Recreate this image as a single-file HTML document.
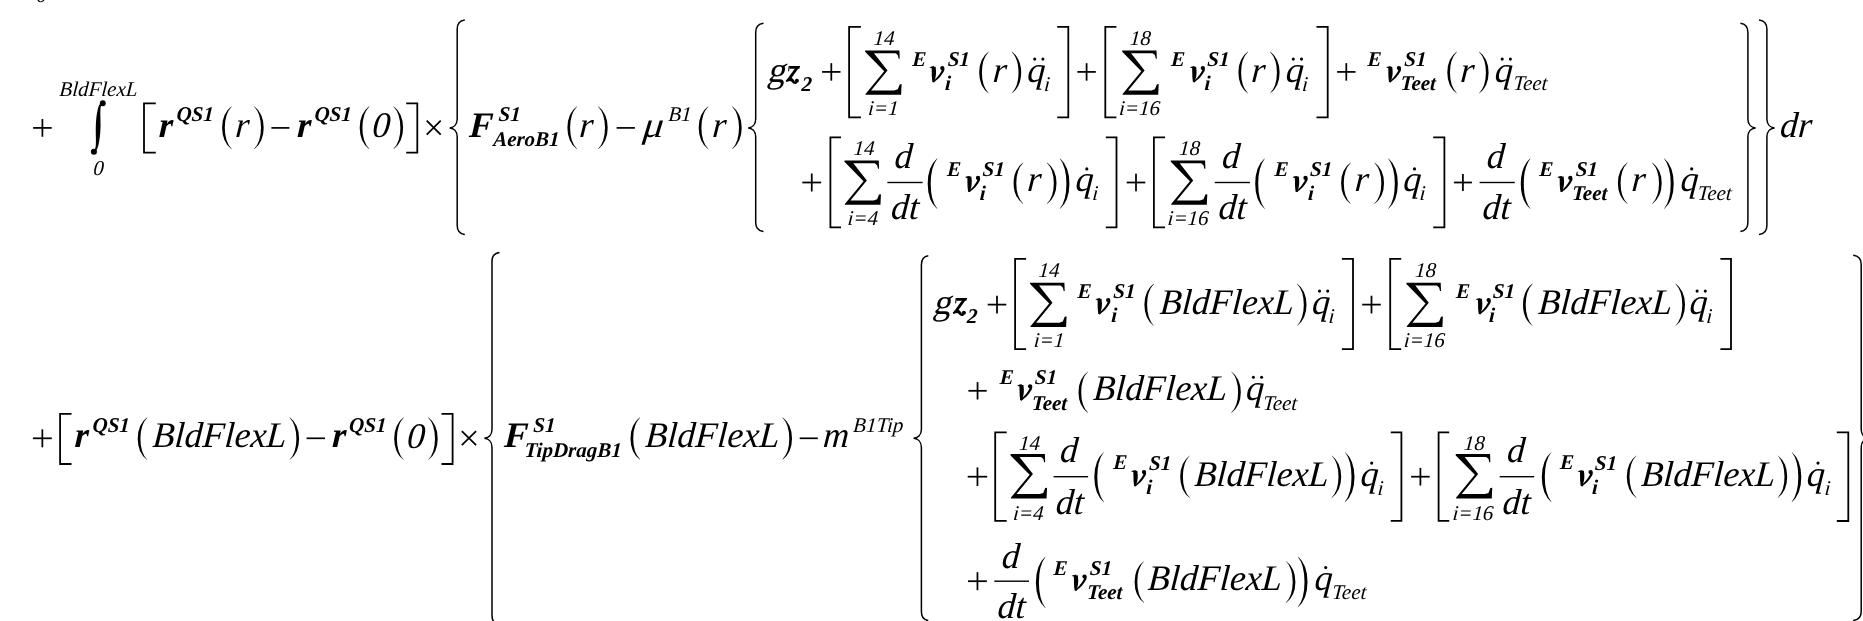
<!DOCTYPE html>
<html><head><meta charset="utf-8"><style>
html,body{margin:0;padding:0;background:#fff;overflow:hidden}
svg{display:block;will-change:transform}
text{font-family:'Liberation Serif',serif;fill:#000}
</style></head><body>
<svg width="1863" height="621" viewBox="0 0 1863 621">
<text transform="translate(36.29 2.3) skewX(-4.0)" font-size="21" font-style="italic">0</text>
<rect x="33.1" y="127.03" width="18.6" height="1.75"/>
<rect x="41.53" y="119.05" width="1.75" height="17.7"/>
<path d="M100.59 103.11L100.38 103.42L100.08 103.86L99.71 104.41L99.30 105.08L98.90 105.84L98.55 106.68L98.25 107.59L97.98 108.56L97.72 109.59L97.48 110.66L97.26 111.75L97.06 112.84L96.87 113.97L96.69 115.14L96.53 116.34L96.39 117.54L96.26 118.74L96.15 119.92L96.06 121.10L95.98 122.29L95.92 123.46L95.87 124.63L95.83 125.79L95.80 126.95L95.78 128.11L95.77 129.28L95.77 130.44L95.78 131.60L95.79 132.75L95.80 133.91L95.82 135.09L95.84 136.28L95.87 137.46L95.90 138.63L95.91 139.76L95.91 140.85L95.90 141.93L95.89 142.99L95.86 144.02L95.82 145.00L95.75 145.91L95.64 146.71L95.46 147.45L95.21 148.16L94.91 148.83L94.61 149.44L94.34 149.97L94.15 150.37L95.85 151.23L96.05 150.86L96.33 150.35L96.68 149.72L97.06 148.98L97.43 148.16L97.76 147.29L98.04 146.37L98.30 145.40L98.55 144.38L98.78 143.32L98.99 142.24L99.19 141.15L99.38 140.02L99.55 138.86L99.71 137.66L99.85 136.46L99.98 135.27L100.10 134.09L100.20 132.91L100.29 131.73L100.36 130.56L100.42 129.39L100.46 128.22L100.50 127.05L100.52 125.88L100.52 124.70L100.51 123.54L100.49 122.38L100.47 121.23L100.45 120.08L100.43 118.91L100.40 117.72L100.37 116.54L100.35 115.38L100.34 114.25L100.34 113.16L100.36 112.08L100.38 111.00L100.40 109.96L100.45 108.98L100.53 108.09L100.65 107.32L100.84 106.64L101.10 106.02L101.40 105.44L101.72 104.91L102.00 104.46L102.21 104.09Z"/>
<circle cx="102.8" cy="103.3" r="2.95"/>
<circle cx="93.9" cy="151.7" r="3.05"/>
<text transform="translate(59.06 95.8) skewX(-4.0)" font-size="21" font-style="italic">BldFlexL</text>
<text transform="translate(92.89 174.9) skewX(-4.0)" font-size="21" font-style="italic">0</text>
<path d="M155.8 103.3H144V152.7H155.8" stroke="#000" stroke-width="1.8" fill="none"/>
<text transform="translate(158.46 136.7) skewX(-3.0)" font-size="36" font-style="italic" font-weight="bold">r</text>
<text transform="translate(176.14 120.7) skewX(-3.0)" font-size="21" font-style="italic" font-weight="bold">QS1</text>
<path d="M231.6 106.3A18.77 24.73 0 0 0 231.6 149.3L231.6 148.85A13.43 24.21 0 0 1 231.6 106.75Z"/>
<text transform="translate(234.74 136.7) skewX(-4.0)" font-size="36" font-style="italic">r</text>
<path d="M254.2 106.3A18.77 24.73 0 0 1 254.2 149.3L254.2 148.85A13.43 24.21 0 0 0 254.2 106.75Z"/>
<rect x="271.4" y="127.05" width="18" height="1.7"/>
<text transform="translate(296.76 136.7) skewX(-3.0)" font-size="36" font-style="italic" font-weight="bold">r</text>
<text transform="translate(314.14 120.7) skewX(-3.0)" font-size="21" font-style="italic" font-weight="bold">QS1</text>
<path d="M369.2 106.3A18.77 24.73 0 0 0 369.2 149.3L369.2 148.85A13.43 24.21 0 0 1 369.2 106.75Z"/>
<text transform="translate(371.81 136.9) skewX(-4.0)" font-size="36" font-style="italic">0</text>
<path d="M393.6 106.3A18.77 24.73 0 0 1 393.6 149.3L393.6 148.85A13.43 24.21 0 0 0 393.6 106.75Z"/>
<path d="M406.2 103.3H417.3V152.7H406.2" stroke="#000" stroke-width="1.8" fill="none"/>
<path d="M426.7 120.7L440.7 134.7M440.7 120.7L426.7 134.7" stroke="#000" stroke-width="1.75" fill="none"/>
<path d="M464.8 20C459.86 20.6 457.2 23.5 457.2 29L457.2 118.9C457.2 124.9 453.45 127.6 449.7 127.9C453.45 128.2 457.2 130.9 457.2 136.9L457.2 225.4C457.2 230.9 459.86 233.8 464.8 234.4" stroke="#000" stroke-width="1.5" fill="none" stroke-linejoin="miter"/>
<text transform="translate(468.64 136.7) skewX(-3.0)" font-size="36" font-style="italic" font-weight="bold">F</text>
<text transform="translate(498.22 120.7) skewX(-3.0)" font-size="21" font-style="italic" font-weight="bold">S1</text>
<text transform="translate(492.89 145.7) skewX(-3.0)" font-size="21" font-style="italic" font-weight="bold">AeroB1</text>
<path d="M576.9 106.3A18.77 24.73 0 0 0 576.9 149.3L576.9 148.85A13.43 24.21 0 0 1 576.9 106.75Z"/>
<text transform="translate(578.74 136.7) skewX(-4.0)" font-size="36" font-style="italic">r</text>
<path d="M598.2 106.3A18.77 24.73 0 0 1 598.2 149.3L598.2 148.85A13.43 24.21 0 0 0 598.2 106.75Z"/>
<rect x="616.6" y="127.05" width="18.3" height="1.7"/>
<text transform="translate(642.2 136.7) skewX(-6) scale(1.13 1) translate(0.04 0)" font-size="36" font-style="italic">μ</text>
<text transform="translate(668.01 120.7) skewX(-4.0)" font-size="21" font-style="italic">B1</text>
<path d="M708.2 106.3A18.77 24.73 0 0 0 708.2 149.3L708.2 148.85A13.43 24.21 0 0 1 708.2 106.75Z"/>
<text transform="translate(711.84 136.7) skewX(-4.0)" font-size="36" font-style="italic">r</text>
<path d="M732.2 106.3A18.77 24.73 0 0 1 732.2 149.3L732.2 148.85A13.43 24.21 0 0 0 732.2 106.75Z"/>
<path d="M763.5 23.3C758.43 23.9 755.7 26.8 755.7 32.3L755.7 118.9C755.7 124.9 751.95 127.6 748.2 127.9C751.95 128.2 755.7 130.9 755.7 136.9L755.7 222.5C755.7 228 758.43 230.9 763.5 231.5" stroke="#000" stroke-width="1.5" fill="none" stroke-linejoin="miter"/>
<text transform="translate(766.85 81.5) skewX(-14)" font-size="36">g</text>
<polygon points="789.00,65.90 800.10,65.90 799.30,68.70 789.50,68.70"/>
<polygon points="788.60,66.20 789.70,66.20 789.05,71.40 788.10,71.30"/>
<polygon points="800.10,66.00 796.50,66.30 785.90,81.00 786.40,81.70 790.30,79.70"/>
<path d="M786.42 81.81L786.71 81.74L787.12 81.63L787.59 81.52L788.07 81.41L788.52 81.33L788.90 81.27L789.25 81.20L789.59 81.13L789.88 81.08L790.08 81.07L790.20 81.08L790.23 81.09L790.27 81.10L790.39 81.13L790.57 81.19L790.80 81.30L791.05 81.43L791.27 81.56L791.45 81.68L791.66 81.88L791.91 82.15L792.20 82.48L792.54 82.84L792.93 83.17L793.30 83.41L793.66 83.62L794.05 83.80L794.47 83.95L794.93 84.04L795.48 84.05L796.03 83.88L796.45 83.62L796.77 83.34L797.03 83.08L797.21 82.89L797.32 82.77L796.28 81.43L796.09 81.55L795.86 81.71L795.63 81.86L795.42 81.97L795.29 82.00L795.32 81.95L795.36 81.91L795.29 81.84L795.16 81.74L795.00 81.59L794.82 81.41L794.67 81.23L794.55 81.06L794.41 80.81L794.23 80.47L794.00 80.08L793.69 79.65L793.33 79.24L792.97 78.90L792.61 78.60L792.21 78.31L791.74 78.04L791.19 77.83L790.57 77.71L789.93 77.72L789.35 77.84L788.86 78.03L788.44 78.25L788.07 78.48L787.70 78.73L787.31 79.06L786.91 79.45L786.55 79.85L786.23 80.24L785.97 80.56L785.78 80.79Z"/>
<circle cx="796.9" cy="80.7" r="2"/>
<text transform="translate(801.16 90.6) skewX(-3.0)" font-size="21" font-style="italic" font-weight="bold">2</text>
<rect x="822.1" y="71.03" width="18.4" height="1.75"/>
<rect x="830.42" y="63.15" width="1.75" height="17.5"/>
<path d="M860.9 26.9H849.1V117.3H860.9" stroke="#000" stroke-width="1.8" fill="none"/>
<polygon points="865.10,50.40 899.40,50.40 899.70,58.70 898.70,58.70 897.80,55.10 895.50,53.30 874.00,53.30 887.50,70.50 871.10,90.50 894.20,90.50 897.80,89.30 899.70,84.50 901.60,84.10 901.10,94.80 865.50,94.80 865.50,93.90 884.20,71.20 865.10,51.80"/>
<text transform="translate(873.25 44.9) skewX(-4.0)" font-size="21" font-style="italic">14</text>
<text transform="translate(867.63 114.6) skewX(-4.0)" font-size="21" font-style="italic">i=1</text>
<text transform="translate(911.95 65.5) skewX(-3.0)" font-size="21" font-style="italic" font-weight="bold">E</text>
<polygon points="929.40,67.30 931.70,66.40 934.20,66.10 933.60,68.30 930.90,68.10"/>
<path d="M931.60 67.04L931.62 67.60L931.65 68.38L931.67 69.28L931.70 70.24L931.73 71.18L931.75 72.03L931.76 72.81L931.77 73.61L931.78 74.41L931.79 75.22L931.81 76.04L931.85 76.86L931.93 77.76L932.03 78.73L932.14 79.73L932.25 80.66L932.34 81.45L932.40 82.02L934.00 82.18L934.18 81.64L934.43 80.89L934.74 80.00L935.05 79.03L935.33 78.05L935.55 77.14L935.70 76.29L935.83 75.44L935.92 74.59L935.99 73.73L936.03 72.86L936.05 71.97L936.02 71.01L935.95 70.00L935.85 68.99L935.75 68.07L935.65 67.31L935.60 66.76Z"/>
<path d="M933.74 82.48L934.04 82.23L934.46 81.89L934.96 81.48L935.51 81.03L936.06 80.57L936.59 80.12L937.09 79.67L937.62 79.21L938.16 78.73L938.71 78.23L939.24 77.70L939.76 77.15L940.26 76.57L940.74 75.96L941.20 75.34L941.64 74.73L942.05 74.14L942.43 73.59L942.79 73.08L943.13 72.57L943.47 72.07L943.77 71.57L944.04 71.06L944.26 70.51L944.39 69.88L944.38 69.27L944.30 68.77L944.20 68.39L944.14 68.17L944.13 68.06L941.27 68.94L941.36 69.17L941.49 69.41L941.59 69.58L941.67 69.71L941.72 69.79L941.74 69.89L941.69 70.13L941.57 70.48L941.38 70.91L941.15 71.38L940.87 71.88L940.57 72.41L940.24 72.96L939.88 73.54L939.49 74.14L939.08 74.73L938.66 75.31L938.24 75.85L937.81 76.37L937.35 76.88L936.86 77.39L936.37 77.90L935.88 78.40L935.41 78.88L934.94 79.38L934.45 79.89L933.96 80.39L933.51 80.85L933.14 81.24L932.86 81.52Z"/>
<circle cx="942.3" cy="68.1" r="2.15"/>
<text transform="translate(947.42 65.8) skewX(-3.0)" font-size="21" font-style="italic" font-weight="bold">S1</text>
<text transform="translate(944.77 90.4) skewX(-3.0)" font-size="21" font-style="italic" font-weight="bold">i</text>
<path d="M988.7 51.6A18.77 24.15 0 0 0 988.7 93.6L988.7 93.15A13.43 23.63 0 0 1 988.7 52.05Z"/>
<text transform="translate(992.24 81.5) skewX(-4.0)" font-size="36" font-style="italic">r</text>
<path d="M1011.7 51.6A18.77 24.15 0 0 1 1011.7 93.6L1011.7 93.15A13.43 23.63 0 0 0 1011.7 52.05Z"/>
<text transform="translate(1026.7 81.5) skewX(-4.0)" font-size="36" font-style="italic">q</text>
<circle cx="1034.7" cy="59.1" r="1.55"/>
<circle cx="1042.9" cy="59.1" r="1.55"/>
<text transform="translate(1043.63 90.6) skewX(-4.0)" font-size="21" font-style="italic">i</text>
<path d="M1057.2 26.9H1068.3V117.3H1057.2" stroke="#000" stroke-width="1.8" fill="none"/>
<rect x="1077.4" y="71.03" width="18.4" height="1.75"/>
<rect x="1085.72" y="63.15" width="1.75" height="17.5"/>
<path d="M1116.4 26.9H1105.3V117.3H1116.4" stroke="#000" stroke-width="1.8" fill="none"/>
<polygon points="1122.20,50.40 1156.50,50.40 1156.80,58.70 1155.80,58.70 1154.90,55.10 1152.60,53.30 1131.10,53.30 1144.60,70.50 1128.20,90.50 1151.30,90.50 1154.90,89.30 1156.80,84.50 1158.70,84.10 1158.20,94.80 1122.60,94.80 1122.60,93.90 1141.30,71.20 1122.20,51.80"/>
<text transform="translate(1129.45 44.9) skewX(-4.0)" font-size="21" font-style="italic">18</text>
<text transform="translate(1118.73 114.6) skewX(-4.0)" font-size="21" font-style="italic">i=16</text>
<text transform="translate(1170.65 65.5) skewX(-3.0)" font-size="21" font-style="italic" font-weight="bold">E</text>
<polygon points="1189.90,67.30 1192.20,66.40 1194.70,66.10 1194.10,68.30 1191.40,68.10"/>
<path d="M1192.10 67.04L1192.12 67.60L1192.15 68.38L1192.17 69.28L1192.20 70.24L1192.23 71.18L1192.25 72.03L1192.26 72.81L1192.27 73.61L1192.28 74.41L1192.29 75.22L1192.31 76.04L1192.35 76.86L1192.43 77.76L1192.53 78.73L1192.64 79.73L1192.75 80.66L1192.84 81.45L1192.90 82.02L1194.50 82.18L1194.68 81.64L1194.93 80.89L1195.24 80.00L1195.55 79.03L1195.83 78.05L1196.05 77.14L1196.20 76.29L1196.33 75.44L1196.42 74.59L1196.49 73.73L1196.53 72.86L1196.55 71.97L1196.52 71.01L1196.45 70.00L1196.35 68.99L1196.25 68.07L1196.15 67.31L1196.10 66.76Z"/>
<path d="M1194.24 82.48L1194.54 82.23L1194.96 81.89L1195.46 81.48L1196.01 81.03L1196.56 80.57L1197.09 80.12L1197.59 79.67L1198.12 79.21L1198.66 78.73L1199.21 78.23L1199.74 77.70L1200.26 77.15L1200.76 76.57L1201.24 75.96L1201.70 75.34L1202.14 74.73L1202.55 74.14L1202.93 73.59L1203.29 73.08L1203.63 72.57L1203.97 72.07L1204.27 71.57L1204.54 71.06L1204.76 70.51L1204.89 69.88L1204.88 69.27L1204.80 68.77L1204.70 68.39L1204.64 68.17L1204.63 68.06L1201.77 68.94L1201.86 69.17L1201.99 69.41L1202.09 69.58L1202.17 69.71L1202.22 69.79L1202.24 69.89L1202.19 70.13L1202.07 70.48L1201.88 70.91L1201.65 71.38L1201.37 71.88L1201.07 72.41L1200.74 72.96L1200.38 73.54L1199.99 74.14L1199.58 74.73L1199.16 75.31L1198.74 75.85L1198.31 76.37L1197.85 76.88L1197.36 77.39L1196.87 77.90L1196.38 78.40L1195.91 78.88L1195.44 79.38L1194.95 79.89L1194.46 80.39L1194.01 80.85L1193.64 81.24L1193.36 81.52Z"/>
<circle cx="1202.8" cy="68.1" r="2.15"/>
<text transform="translate(1207.12 65.8) skewX(-3.0)" font-size="21" font-style="italic" font-weight="bold">S1</text>
<text transform="translate(1204.37 90.4) skewX(-3.0)" font-size="21" font-style="italic" font-weight="bold">i</text>
<path d="M1247.9 51.6A18.77 24.15 0 0 0 1247.9 93.6L1247.9 93.15A13.43 23.63 0 0 1 1247.9 52.05Z"/>
<text transform="translate(1250.64 81.5) skewX(-4.0)" font-size="36" font-style="italic">r</text>
<path d="M1270.1 51.6A18.77 24.15 0 0 1 1270.1 93.6L1270.1 93.15A13.43 23.63 0 0 0 1270.1 52.05Z"/>
<text transform="translate(1285.3 81.5) skewX(-4.0)" font-size="36" font-style="italic">q</text>
<circle cx="1293.3" cy="59.1" r="1.55"/>
<circle cx="1301.5" cy="59.1" r="1.55"/>
<text transform="translate(1301.63 90.6) skewX(-4.0)" font-size="21" font-style="italic">i</text>
<path d="M1316.5 26.9H1327.7V117.3H1316.5" stroke="#000" stroke-width="1.8" fill="none"/>
<rect x="1337.1" y="71.03" width="18.4" height="1.75"/>
<rect x="1345.42" y="63.15" width="1.75" height="17.5"/>
<text transform="translate(1367.25 65.5) skewX(-3.0)" font-size="21" font-style="italic" font-weight="bold">E</text>
<polygon points="1386.00,67.30 1388.30,66.40 1390.80,66.10 1390.20,68.30 1387.50,68.10"/>
<path d="M1388.20 67.04L1388.22 67.60L1388.25 68.38L1388.27 69.28L1388.30 70.24L1388.33 71.18L1388.35 72.03L1388.36 72.81L1388.37 73.61L1388.38 74.41L1388.39 75.22L1388.41 76.04L1388.45 76.86L1388.53 77.76L1388.63 78.73L1388.74 79.73L1388.85 80.66L1388.94 81.45L1389.00 82.02L1390.60 82.18L1390.78 81.64L1391.03 80.89L1391.34 80.00L1391.65 79.03L1391.93 78.05L1392.15 77.14L1392.30 76.29L1392.43 75.44L1392.52 74.59L1392.59 73.73L1392.63 72.86L1392.65 71.97L1392.62 71.01L1392.55 70.00L1392.45 68.99L1392.35 68.07L1392.25 67.31L1392.20 66.76Z"/>
<path d="M1390.34 82.48L1390.64 82.23L1391.06 81.89L1391.56 81.48L1392.11 81.03L1392.66 80.57L1393.19 80.12L1393.69 79.67L1394.22 79.21L1394.76 78.73L1395.31 78.23L1395.84 77.70L1396.36 77.15L1396.86 76.57L1397.34 75.96L1397.80 75.34L1398.24 74.73L1398.65 74.14L1399.03 73.59L1399.39 73.08L1399.73 72.57L1400.07 72.07L1400.37 71.57L1400.64 71.06L1400.86 70.51L1400.99 69.88L1400.98 69.27L1400.90 68.77L1400.80 68.39L1400.74 68.17L1400.73 68.06L1397.87 68.94L1397.96 69.17L1398.09 69.41L1398.19 69.58L1398.27 69.71L1398.32 69.79L1398.34 69.89L1398.29 70.13L1398.17 70.48L1397.98 70.91L1397.75 71.38L1397.47 71.88L1397.17 72.41L1396.84 72.96L1396.48 73.54L1396.09 74.14L1395.68 74.73L1395.26 75.31L1394.84 75.85L1394.41 76.37L1393.95 76.88L1393.46 77.39L1392.97 77.90L1392.48 78.40L1392.01 78.88L1391.54 79.38L1391.05 79.89L1390.56 80.39L1390.11 80.85L1389.74 81.24L1389.46 81.52Z"/>
<circle cx="1398.9" cy="68.1" r="2.15"/>
<text transform="translate(1404.02 65.8) skewX(-3.0)" font-size="21" font-style="italic" font-weight="bold">S1</text>
<text transform="translate(1400.27 90.4) skewX(-3.0)" font-size="21" font-style="italic" font-weight="bold">Teet</text>
<path d="M1456.8 51.6A18.77 24.15 0 0 0 1456.8 93.6L1456.8 93.15A13.43 23.63 0 0 1 1456.8 52.05Z"/>
<text transform="translate(1459.64 81.5) skewX(-4.0)" font-size="36" font-style="italic">r</text>
<path d="M1479.1 51.6A18.77 24.15 0 0 1 1479.1 93.6L1479.1 93.15A13.43 23.63 0 0 0 1479.1 52.05Z"/>
<text transform="translate(1494.2 81.5) skewX(-4.0)" font-size="36" font-style="italic">q</text>
<circle cx="1502.2" cy="59.1" r="1.55"/>
<circle cx="1510.4" cy="59.1" r="1.55"/>
<text transform="translate(1512.93 90.4) skewX(-4.0)" font-size="21" font-style="italic">Teet</text>
<rect x="802.3" y="181.62" width="18.9" height="1.75"/>
<rect x="810.88" y="173.5" width="1.75" height="18"/>
<path d="M841 137.4H830.4V227.3H841" stroke="#000" stroke-width="1.8" fill="none"/>
<polygon points="844.45,160.45 878.75,160.45 879.05,168.75 878.05,168.75 877.15,165.15 874.85,163.35 853.35,163.35 866.85,180.55 850.45,200.55 873.55,200.55 877.15,199.35 879.05,194.55 880.95,194.15 880.45,204.85 844.85,204.85 844.85,203.95 863.55,181.25 844.45,161.85"/>
<text transform="translate(853.15 154.9) skewX(-4.0)" font-size="21" font-style="italic">14</text>
<text transform="translate(847.23 224.5) skewX(-4.0)" font-size="21" font-style="italic">i=4</text>
<rect x="887.4" y="181.8" width="35.2" height="1.4"/>
<text transform="translate(894.01 168.3) skewX(-4.0)" font-size="36" font-style="italic">d</text>
<text transform="translate(890.51 219) skewX(-4.0)" font-size="36" font-style="italic">dt</text>
<path d="M937.2 158.3A18.77 29.15 0 0 0 937.2 209L937.2 208.55A12.84 28.63 0 0 1 937.2 158.75Z"/>
<text transform="translate(946.75 175.5) skewX(-3.0)" font-size="21" font-style="italic" font-weight="bold">E</text>
<polygon points="965.10,177.10 967.40,176.20 969.90,175.90 969.30,178.10 966.60,177.90"/>
<path d="M967.30 176.84L967.32 177.40L967.35 178.18L967.37 179.08L967.40 180.04L967.43 180.98L967.45 181.83L967.46 182.61L967.47 183.41L967.48 184.21L967.49 185.02L967.51 185.84L967.55 186.66L967.63 187.56L967.73 188.53L967.84 189.53L967.95 190.46L968.04 191.25L968.10 191.82L969.70 191.98L969.88 191.44L970.13 190.69L970.44 189.80L970.75 188.83L971.03 187.85L971.25 186.94L971.40 186.09L971.53 185.24L971.62 184.39L971.69 183.53L971.73 182.66L971.75 181.77L971.72 180.81L971.65 179.80L971.55 178.79L971.45 177.87L971.35 177.11L971.30 176.56Z"/>
<path d="M969.44 192.28L969.74 192.03L970.16 191.69L970.66 191.28L971.21 190.83L971.76 190.37L972.29 189.92L972.79 189.47L973.32 189.01L973.86 188.53L974.41 188.03L974.94 187.50L975.46 186.95L975.96 186.37L976.44 185.76L976.90 185.14L977.34 184.53L977.75 183.94L978.13 183.39L978.49 182.88L978.83 182.37L979.17 181.87L979.47 181.37L979.74 180.86L979.96 180.31L980.09 179.68L980.08 179.07L980.00 178.57L979.90 178.19L979.84 177.97L979.83 177.86L976.97 178.74L977.06 178.97L977.19 179.21L977.29 179.38L977.37 179.51L977.42 179.59L977.44 179.69L977.39 179.93L977.27 180.28L977.08 180.71L976.85 181.18L976.57 181.68L976.27 182.21L975.94 182.76L975.58 183.34L975.19 183.94L974.78 184.53L974.36 185.11L973.94 185.65L973.51 186.17L973.05 186.68L972.56 187.19L972.07 187.70L971.58 188.20L971.11 188.68L970.64 189.18L970.15 189.69L969.66 190.19L969.21 190.65L968.84 191.04L968.56 191.32Z"/>
<circle cx="978" cy="177.9" r="2.15"/>
<text transform="translate(982.32 175.7) skewX(-3.0)" font-size="21" font-style="italic" font-weight="bold">S1</text>
<text transform="translate(979.57 200.2) skewX(-3.0)" font-size="21" font-style="italic" font-weight="bold">i</text>
<path d="M1023.1 162.6A18.77 23.75 0 0 0 1023.1 203.9L1023.1 203.45A13.43 23.23 0 0 1 1023.1 163.05Z"/>
<text transform="translate(1026.74 191.3) skewX(-4.0)" font-size="36" font-style="italic">r</text>
<path d="M1047 162.6A18.77 23.75 0 0 1 1047 203.9L1047 203.45A13.43 23.23 0 0 0 1047 163.05Z"/>
<path d="M1059.9 158.3A18.77 29.15 0 0 1 1059.9 209L1059.9 208.55A12.84 28.63 0 0 0 1059.9 158.75Z"/>
<text transform="translate(1075.1 191.3) skewX(-4.0)" font-size="36" font-style="italic">q</text>
<circle cx="1086.8" cy="168.9" r="1.55"/>
<text transform="translate(1092.03 200.2) skewX(-4.0)" font-size="21" font-style="italic">i</text>
<path d="M1105.8 137.4H1116.5V227.3H1105.8" stroke="#000" stroke-width="1.8" fill="none"/>
<rect x="1126.7" y="181.62" width="18.6" height="1.75"/>
<rect x="1135.12" y="173.65" width="1.75" height="17.7"/>
<path d="M1165 137.4H1153.9V227.3H1165" stroke="#000" stroke-width="1.8" fill="none"/>
<polygon points="1170.80,160.45 1205.10,160.45 1205.40,168.75 1204.40,168.75 1203.50,165.15 1201.20,163.35 1179.70,163.35 1193.20,180.55 1176.80,200.55 1199.90,200.55 1203.50,199.35 1205.40,194.55 1207.30,194.15 1206.80,204.85 1171.20,204.85 1171.20,203.95 1189.90,181.25 1170.80,161.85"/>
<text transform="translate(1178.85 154.9) skewX(-4.0)" font-size="21" font-style="italic">18</text>
<text transform="translate(1167.33 224.5) skewX(-4.0)" font-size="21" font-style="italic">i=16</text>
<rect x="1214.8" y="181.8" width="35.2" height="1.4"/>
<text transform="translate(1221.51 168.3) skewX(-4.0)" font-size="36" font-style="italic">d</text>
<text transform="translate(1218.01 219) skewX(-4.0)" font-size="36" font-style="italic">dt</text>
<path d="M1264.7 158.3A18.77 29.15 0 0 0 1264.7 209L1264.7 208.55A12.84 28.63 0 0 1 1264.7 158.75Z"/>
<text transform="translate(1274.25 175.5) skewX(-3.0)" font-size="21" font-style="italic" font-weight="bold">E</text>
<polygon points="1292.60,177.10 1294.90,176.20 1297.40,175.90 1296.80,178.10 1294.10,177.90"/>
<path d="M1294.80 176.84L1294.82 177.40L1294.85 178.18L1294.87 179.08L1294.90 180.04L1294.93 180.98L1294.95 181.83L1294.96 182.61L1294.97 183.41L1294.98 184.21L1294.99 185.02L1295.01 185.84L1295.05 186.66L1295.13 187.56L1295.23 188.53L1295.34 189.53L1295.45 190.46L1295.54 191.25L1295.60 191.82L1297.20 191.98L1297.38 191.44L1297.63 190.69L1297.94 189.80L1298.25 188.83L1298.53 187.85L1298.75 186.94L1298.90 186.09L1299.03 185.24L1299.12 184.39L1299.19 183.53L1299.23 182.66L1299.25 181.77L1299.22 180.81L1299.15 179.80L1299.05 178.79L1298.95 177.87L1298.85 177.11L1298.80 176.56Z"/>
<path d="M1296.94 192.28L1297.24 192.03L1297.66 191.69L1298.16 191.28L1298.71 190.83L1299.26 190.37L1299.79 189.92L1300.29 189.47L1300.82 189.01L1301.36 188.53L1301.91 188.03L1302.44 187.50L1302.96 186.95L1303.46 186.37L1303.94 185.76L1304.40 185.14L1304.84 184.53L1305.25 183.94L1305.63 183.39L1305.99 182.88L1306.33 182.37L1306.67 181.87L1306.97 181.37L1307.24 180.86L1307.46 180.31L1307.59 179.68L1307.58 179.07L1307.50 178.57L1307.40 178.19L1307.34 177.97L1307.33 177.86L1304.47 178.74L1304.56 178.97L1304.69 179.21L1304.79 179.38L1304.87 179.51L1304.92 179.59L1304.94 179.69L1304.89 179.93L1304.77 180.28L1304.58 180.71L1304.35 181.18L1304.07 181.68L1303.77 182.21L1303.44 182.76L1303.08 183.34L1302.69 183.94L1302.28 184.53L1301.86 185.11L1301.44 185.65L1301.01 186.17L1300.55 186.68L1300.06 187.19L1299.57 187.70L1299.08 188.20L1298.61 188.68L1298.14 189.18L1297.65 189.69L1297.16 190.19L1296.71 190.65L1296.34 191.04L1296.06 191.32Z"/>
<circle cx="1305.5" cy="177.9" r="2.15"/>
<text transform="translate(1309.82 175.7) skewX(-3.0)" font-size="21" font-style="italic" font-weight="bold">S1</text>
<text transform="translate(1307.87 200.2) skewX(-3.0)" font-size="21" font-style="italic" font-weight="bold">i</text>
<path d="M1350.6 162.6A18.77 23.75 0 0 0 1350.6 203.9L1350.6 203.45A13.43 23.23 0 0 1 1350.6 163.05Z"/>
<text transform="translate(1354.24 191.3) skewX(-4.0)" font-size="36" font-style="italic">r</text>
<path d="M1374.5 162.6A18.77 23.75 0 0 1 1374.5 203.9L1374.5 203.45A13.43 23.23 0 0 0 1374.5 163.05Z"/>
<path d="M1388.3 158.3A18.77 29.15 0 0 1 1388.3 209L1388.3 208.55A12.84 28.63 0 0 0 1388.3 158.75Z"/>
<text transform="translate(1402.8 191.3) skewX(-4.0)" font-size="36" font-style="italic">q</text>
<circle cx="1414.5" cy="168.9" r="1.55"/>
<text transform="translate(1419.23 200.2) skewX(-4.0)" font-size="21" font-style="italic">i</text>
<path d="M1433.2 137.4H1444.4V227.3H1433.2" stroke="#000" stroke-width="1.8" fill="none"/>
<rect x="1453.9" y="181.62" width="18" height="1.75"/>
<rect x="1462.03" y="173.95" width="1.75" height="17.1"/>
<rect x="1479.6" y="181.8" width="35.2" height="1.4"/>
<text transform="translate(1486.31 168.3) skewX(-4.0)" font-size="36" font-style="italic">d</text>
<text transform="translate(1482.01 219) skewX(-4.0)" font-size="36" font-style="italic">dt</text>
<path d="M1530.3 158.3A18.77 29.15 0 0 0 1530.3 209L1530.3 208.55A12.84 28.63 0 0 1 1530.3 158.75Z"/>
<text transform="translate(1539.05 175.5) skewX(-3.0)" font-size="21" font-style="italic" font-weight="bold">E</text>
<polygon points="1557.40,177.10 1559.70,176.20 1562.20,175.90 1561.60,178.10 1558.90,177.90"/>
<path d="M1559.60 176.84L1559.62 177.40L1559.65 178.18L1559.67 179.08L1559.70 180.04L1559.73 180.98L1559.75 181.83L1559.76 182.61L1559.77 183.41L1559.78 184.21L1559.79 185.02L1559.81 185.84L1559.85 186.66L1559.93 187.56L1560.03 188.53L1560.14 189.53L1560.25 190.46L1560.34 191.25L1560.40 191.82L1562.00 191.98L1562.18 191.44L1562.43 190.69L1562.74 189.80L1563.05 188.83L1563.33 187.85L1563.55 186.94L1563.70 186.09L1563.83 185.24L1563.92 184.39L1563.99 183.53L1564.03 182.66L1564.05 181.77L1564.02 180.81L1563.95 179.80L1563.85 178.79L1563.75 177.87L1563.65 177.11L1563.60 176.56Z"/>
<path d="M1561.74 192.28L1562.04 192.03L1562.46 191.69L1562.96 191.28L1563.51 190.83L1564.06 190.37L1564.59 189.92L1565.09 189.47L1565.62 189.01L1566.16 188.53L1566.71 188.03L1567.24 187.50L1567.76 186.95L1568.26 186.37L1568.74 185.76L1569.20 185.14L1569.64 184.53L1570.05 183.94L1570.43 183.39L1570.79 182.88L1571.13 182.37L1571.47 181.87L1571.77 181.37L1572.04 180.86L1572.26 180.31L1572.39 179.68L1572.38 179.07L1572.30 178.57L1572.20 178.19L1572.14 177.97L1572.13 177.86L1569.27 178.74L1569.36 178.97L1569.49 179.21L1569.59 179.38L1569.67 179.51L1569.72 179.59L1569.74 179.69L1569.69 179.93L1569.57 180.28L1569.38 180.71L1569.15 181.18L1568.87 181.68L1568.57 182.21L1568.24 182.76L1567.88 183.34L1567.49 183.94L1567.08 184.53L1566.66 185.11L1566.24 185.65L1565.81 186.17L1565.35 186.68L1564.86 187.19L1564.37 187.70L1563.88 188.20L1563.41 188.68L1562.94 189.18L1562.45 189.69L1561.96 190.19L1561.51 190.65L1561.14 191.04L1560.86 191.32Z"/>
<circle cx="1570.3" cy="177.9" r="2.15"/>
<text transform="translate(1575.42 175.7) skewX(-3.0)" font-size="21" font-style="italic" font-weight="bold">S1</text>
<text transform="translate(1571.67 200.2) skewX(-3.0)" font-size="21" font-style="italic" font-weight="bold">Teet</text>
<path d="M1627.4 162.6A18.77 23.75 0 0 0 1627.4 203.9L1627.4 203.45A13.43 23.23 0 0 1 1627.4 163.05Z"/>
<text transform="translate(1631.04 191.3) skewX(-4.0)" font-size="36" font-style="italic">r</text>
<path d="M1652.2 162.6A18.77 23.75 0 0 1 1652.2 203.9L1652.2 203.45A13.43 23.23 0 0 0 1652.2 163.05Z"/>
<path d="M1664.2 158.3A18.77 29.15 0 0 1 1664.2 209L1664.2 208.55A12.84 28.63 0 0 0 1664.2 158.75Z"/>
<text transform="translate(1680 191.3) skewX(-4.0)" font-size="36" font-style="italic">q</text>
<circle cx="1691.7" cy="168.9" r="1.55"/>
<text transform="translate(1697.23 200.2) skewX(-4.0)" font-size="21" font-style="italic">Teet</text>
<path d="M1740.4 23.3C1745.28 23.9 1747.9 26.8 1747.9 32.3L1747.9 118.9C1747.9 124.9 1751.75 127.6 1755.6 127.9C1751.75 128.2 1747.9 130.9 1747.9 136.9L1747.9 222.5C1747.9 228 1745.28 230.9 1740.4 231.5" stroke="#000" stroke-width="1.5" fill="none" stroke-linejoin="miter"/>
<path d="M1759 20.1C1764.13 20.7 1766.9 23.6 1766.9 29.1L1766.9 118.9C1766.9 124.9 1770.75 127.6 1774.6 127.9C1770.75 128.2 1766.9 130.9 1766.9 136.9L1766.9 225.6C1766.9 231.1 1764.13 234 1759 234.6" stroke="#000" stroke-width="1.5" fill="none" stroke-linejoin="miter"/>
<text transform="translate(1779.61 136.7) skewX(-4.0)" font-size="36" font-style="italic">dr</text>
<rect x="32.9" y="437.43" width="18.9" height="1.75"/>
<rect x="41.47" y="429.3" width="1.75" height="18"/>
<path d="M71.5 413.8H60.1V464H71.5" stroke="#000" stroke-width="1.8" fill="none"/>
<text transform="translate(74.26 447.45) skewX(-3.0)" font-size="36" font-style="italic" font-weight="bold">r</text>
<text transform="translate(92.24 431.5) skewX(-3.0)" font-size="21" font-style="italic" font-weight="bold">QS1</text>
<path d="M147.2 417.2A18.77 24.67 0 0 0 147.2 460.1L147.2 459.65A13.43 24.15 0 0 1 147.2 417.65Z"/>
<text transform="translate(151.97 447.45) skewX(-4.0)" font-size="36" font-style="italic">BldFlexL</text>
<path d="M289.6 417.2A18.77 24.67 0 0 1 289.6 460.1L289.6 459.65A13.43 24.15 0 0 0 289.6 417.65Z"/>
<rect x="306.6" y="437.45" width="18.4" height="1.7"/>
<text transform="translate(331.66 447.45) skewX(-3.0)" font-size="36" font-style="italic" font-weight="bold">r</text>
<text transform="translate(348.84 431.5) skewX(-3.0)" font-size="21" font-style="italic" font-weight="bold">QS1</text>
<path d="M403.7 417.2A18.77 24.67 0 0 0 403.7 460.1L403.7 459.65A13.43 24.15 0 0 1 403.7 417.65Z"/>
<text transform="translate(406.61 447.65) skewX(-4.0)" font-size="36" font-style="italic">0</text>
<path d="M428.2 417.2A18.77 24.67 0 0 1 428.2 460.1L428.2 459.65A13.43 24.15 0 0 0 428.2 417.65Z"/>
<path d="M441.5 413.8H452.6V464H441.5" stroke="#000" stroke-width="1.8" fill="none"/>
<path d="M461.8 431.2L476.1 445.2M476.1 431.2L461.8 445.2" stroke="#000" stroke-width="1.75" fill="none"/>
<path d="M499.5 252.4C494.62 253 492 255.9 492 261.4L492 429.3C492 435.3 488.2 438 484.4 438.3C488.2 438.6 492 441.3 492 447.3L492 615.4C492 620.9 494.62 623.8 499.5 624.4" stroke="#000" stroke-width="1.5" fill="none" stroke-linejoin="miter"/>
<text transform="translate(503.84 447.45) skewX(-3.0)" font-size="36" font-style="italic" font-weight="bold">F</text>
<text transform="translate(533.12 431.5) skewX(-3.0)" font-size="21" font-style="italic" font-weight="bold">S1</text>
<text transform="translate(524.27 456.5) skewX(-3.0)" font-size="21" font-style="italic" font-weight="bold">TipDragB1</text>
<path d="M640 417.2A18.77 24.50 0 0 0 640 459.8L640 459.35A13.43 23.98 0 0 1 640 417.65Z"/>
<text transform="translate(644.77 447.45) skewX(-4.0)" font-size="36" font-style="italic">BldFlexL</text>
<path d="M782.5 417.2A18.77 24.50 0 0 1 782.5 459.8L782.5 459.35A13.43 23.98 0 0 0 782.5 417.65Z"/>
<rect x="799.7" y="437.45" width="18.1" height="1.7"/>
<text transform="translate(822.5 447.45) skewX(-4.0)" font-size="36" font-style="italic">m</text>
<text transform="translate(852.81 431.5) skewX(-4.0)" font-size="21" font-style="italic">B1Tip</text>
<path d="M928.3 255.7C923.81 256.3 921.4 259.2 921.4 264.7L921.4 429.3C921.4 435.3 917.5 438 913.6 438.3C917.5 438.6 921.4 441.3 921.4 447.3L921.4 611.5C921.4 617 923.81 619.9 928.3 620.5" stroke="#000" stroke-width="1.5" fill="none" stroke-linejoin="miter"/>
<path d="M1853.2 255.3C1858.4 255.9 1861.2 258.8 1861.2 264.3L1861.2 429.3C1861.2 435.3 1865 438 1868.8 438.3C1865 438.6 1861.2 441.3 1861.2 447.3L1861.2 611.5C1861.2 617 1858.4 619.9 1853.2 620.5" stroke="#000" stroke-width="1.5" fill="none" stroke-linejoin="miter"/>
<text transform="translate(932.55 313.5) skewX(-14)" font-size="36">g</text>
<polygon points="956.00,297.90 967.10,297.90 966.30,300.70 956.50,300.70"/>
<polygon points="955.60,298.20 956.70,298.20 956.05,303.40 955.10,303.30"/>
<polygon points="967.10,298.00 963.50,298.30 952.90,313.00 953.40,313.70 957.30,311.70"/>
<path d="M953.42 313.81L953.71 313.74L954.12 313.63L954.59 313.52L955.07 313.41L955.52 313.33L955.90 313.27L956.25 313.20L956.59 313.13L956.88 313.08L957.08 313.07L957.20 313.08L957.23 313.09L957.27 313.10L957.39 313.13L957.57 313.19L957.80 313.30L958.05 313.43L958.27 313.56L958.45 313.68L958.66 313.88L958.91 314.15L959.20 314.48L959.54 314.84L959.93 315.17L960.30 315.41L960.66 315.62L961.05 315.80L961.47 315.95L961.93 316.04L962.48 316.05L963.03 315.88L963.45 315.62L963.77 315.34L964.03 315.08L964.21 314.89L964.32 314.77L963.28 313.43L963.09 313.55L962.86 313.71L962.63 313.86L962.42 313.97L962.29 314.00L962.32 313.95L962.36 313.91L962.29 313.84L962.16 313.74L962.00 313.59L961.82 313.41L961.67 313.23L961.55 313.06L961.41 312.81L961.23 312.47L961.00 312.08L960.69 311.65L960.33 311.24L959.97 310.90L959.61 310.60L959.21 310.31L958.74 310.04L958.19 309.83L957.57 309.71L956.93 309.72L956.35 309.84L955.86 310.03L955.44 310.25L955.07 310.48L954.70 310.73L954.31 311.06L953.91 311.45L953.55 311.85L953.23 312.24L952.97 312.56L952.78 312.79Z"/>
<circle cx="963.9" cy="312.7" r="2"/>
<text transform="translate(966.66 322.5) skewX(-3.0)" font-size="21" font-style="italic" font-weight="bold">2</text>
<rect x="987.7" y="303.73" width="18.6" height="1.75"/>
<rect x="996.12" y="295.75" width="1.75" height="17.7"/>
<path d="M1026.1 258.9H1015.1V349.1H1026.1" stroke="#000" stroke-width="1.8" fill="none"/>
<polygon points="1030.10,282.70 1064.40,282.70 1064.70,291.00 1063.70,291.00 1062.80,287.40 1060.50,285.60 1039.00,285.60 1052.50,302.80 1036.10,322.80 1059.20,322.80 1062.80,321.60 1064.70,316.80 1066.60,316.40 1066.10,327.10 1030.50,327.10 1030.50,326.20 1049.20,303.50 1030.10,284.10"/>
<text transform="translate(1038.25 276.6) skewX(-4.0)" font-size="21" font-style="italic">14</text>
<text transform="translate(1033.43 347.4) skewX(-4.0)" font-size="21" font-style="italic">i=1</text>
<text transform="translate(1077.25 297.5) skewX(-3.0)" font-size="21" font-style="italic" font-weight="bold">E</text>
<polygon points="1095.30,299.30 1097.60,298.40 1100.10,298.10 1099.50,300.30 1096.80,300.10"/>
<path d="M1097.50 299.04L1097.52 299.60L1097.55 300.38L1097.57 301.28L1097.60 302.24L1097.63 303.18L1097.65 304.03L1097.66 304.81L1097.67 305.61L1097.68 306.41L1097.69 307.22L1097.71 308.04L1097.75 308.86L1097.83 309.76L1097.93 310.73L1098.04 311.73L1098.15 312.66L1098.24 313.45L1098.30 314.02L1099.90 314.18L1100.08 313.64L1100.33 312.89L1100.64 312.00L1100.95 311.03L1101.23 310.05L1101.45 309.14L1101.60 308.29L1101.73 307.44L1101.82 306.59L1101.89 305.73L1101.93 304.86L1101.95 303.97L1101.92 303.01L1101.85 302.00L1101.75 300.99L1101.65 300.07L1101.55 299.31L1101.50 298.76Z"/>
<path d="M1099.64 314.48L1099.94 314.23L1100.36 313.89L1100.86 313.48L1101.41 313.03L1101.96 312.57L1102.49 312.12L1102.99 311.67L1103.52 311.21L1104.06 310.73L1104.61 310.23L1105.14 309.70L1105.66 309.15L1106.16 308.57L1106.64 307.96L1107.10 307.34L1107.54 306.73L1107.95 306.14L1108.33 305.59L1108.69 305.08L1109.03 304.57L1109.37 304.07L1109.67 303.57L1109.94 303.06L1110.16 302.51L1110.29 301.88L1110.28 301.27L1110.20 300.77L1110.10 300.39L1110.04 300.17L1110.03 300.06L1107.17 300.94L1107.26 301.17L1107.39 301.41L1107.49 301.58L1107.57 301.71L1107.62 301.79L1107.64 301.89L1107.59 302.13L1107.47 302.48L1107.28 302.91L1107.05 303.38L1106.77 303.88L1106.47 304.41L1106.14 304.96L1105.78 305.54L1105.39 306.14L1104.98 306.73L1104.56 307.31L1104.14 307.85L1103.71 308.37L1103.25 308.88L1102.76 309.39L1102.27 309.90L1101.78 310.40L1101.31 310.88L1100.84 311.38L1100.35 311.89L1099.86 312.39L1099.41 312.85L1099.04 313.24L1098.76 313.52Z"/>
<circle cx="1108.2" cy="300.1" r="2.15"/>
<text transform="translate(1113.02 297.8) skewX(-3.0)" font-size="21" font-style="italic" font-weight="bold">S1</text>
<text transform="translate(1111.07 322.4) skewX(-3.0)" font-size="21" font-style="italic" font-weight="bold">i</text>
<path d="M1153.9 283.6A18.77 24.44 0 0 0 1153.9 326.1L1153.9 325.65A13.43 23.92 0 0 1 1153.9 284.05Z"/>
<text transform="translate(1159.27 313.5) skewX(-4.0)" font-size="36" font-style="italic">BldFlexL</text>
<path d="M1297 283.6A18.77 24.44 0 0 1 1297 326.1L1297 325.65A13.43 23.92 0 0 0 1297 284.05Z"/>
<text transform="translate(1311.5 313.5) skewX(-4.0)" font-size="36" font-style="italic">q</text>
<circle cx="1319.5" cy="291.1" r="1.55"/>
<circle cx="1327.7" cy="291.1" r="1.55"/>
<text transform="translate(1328.33 322.6) skewX(-4.0)" font-size="21" font-style="italic">i</text>
<path d="M1341.9 258.9H1353V349.1H1341.9" stroke="#000" stroke-width="1.8" fill="none"/>
<rect x="1362.2" y="303.73" width="18.6" height="1.75"/>
<rect x="1370.62" y="295.75" width="1.75" height="17.7"/>
<path d="M1401.2 258.9H1390.2V349.1H1401.2" stroke="#000" stroke-width="1.8" fill="none"/>
<polygon points="1406.40,282.70 1440.70,282.70 1441.00,291.00 1440.00,291.00 1439.10,287.40 1436.80,285.60 1415.30,285.60 1428.80,302.80 1412.40,322.80 1435.50,322.80 1439.10,321.60 1441.00,316.80 1442.90,316.40 1442.40,327.10 1406.80,327.10 1406.80,326.20 1425.50,303.50 1406.40,284.10"/>
<text transform="translate(1414.65 276.6) skewX(-4.0)" font-size="21" font-style="italic">18</text>
<text transform="translate(1403.53 347.4) skewX(-4.0)" font-size="21" font-style="italic">i=16</text>
<text transform="translate(1455.85 297.5) skewX(-3.0)" font-size="21" font-style="italic" font-weight="bold">E</text>
<polygon points="1475.70,299.30 1478.00,298.40 1480.50,298.10 1479.90,300.30 1477.20,300.10"/>
<path d="M1477.90 299.04L1477.92 299.60L1477.95 300.38L1477.97 301.28L1478.00 302.24L1478.03 303.18L1478.05 304.03L1478.06 304.81L1478.07 305.61L1478.08 306.41L1478.09 307.22L1478.11 308.04L1478.15 308.86L1478.23 309.76L1478.33 310.73L1478.44 311.73L1478.55 312.66L1478.64 313.45L1478.70 314.02L1480.30 314.18L1480.48 313.64L1480.73 312.89L1481.04 312.00L1481.35 311.03L1481.63 310.05L1481.85 309.14L1482.00 308.29L1482.13 307.44L1482.22 306.59L1482.29 305.73L1482.33 304.86L1482.35 303.97L1482.32 303.01L1482.25 302.00L1482.15 300.99L1482.05 300.07L1481.95 299.31L1481.90 298.76Z"/>
<path d="M1480.04 314.48L1480.34 314.23L1480.76 313.89L1481.26 313.48L1481.81 313.03L1482.36 312.57L1482.89 312.12L1483.39 311.67L1483.92 311.21L1484.46 310.73L1485.01 310.23L1485.54 309.70L1486.06 309.15L1486.56 308.57L1487.04 307.96L1487.50 307.34L1487.94 306.73L1488.35 306.14L1488.73 305.59L1489.09 305.08L1489.43 304.57L1489.77 304.07L1490.07 303.57L1490.34 303.06L1490.56 302.51L1490.69 301.88L1490.68 301.27L1490.60 300.77L1490.50 300.39L1490.44 300.17L1490.43 300.06L1487.57 300.94L1487.66 301.17L1487.79 301.41L1487.89 301.58L1487.97 301.71L1488.02 301.79L1488.04 301.89L1487.99 302.13L1487.87 302.48L1487.68 302.91L1487.45 303.38L1487.17 303.88L1486.87 304.41L1486.54 304.96L1486.18 305.54L1485.79 306.14L1485.38 306.73L1484.96 307.31L1484.54 307.85L1484.11 308.37L1483.65 308.88L1483.16 309.39L1482.67 309.90L1482.18 310.40L1481.71 310.88L1481.24 311.38L1480.75 311.89L1480.26 312.39L1479.81 312.85L1479.44 313.24L1479.16 313.52Z"/>
<circle cx="1488.6" cy="300.1" r="2.15"/>
<text transform="translate(1492.52 297.8) skewX(-3.0)" font-size="21" font-style="italic" font-weight="bold">S1</text>
<text transform="translate(1488.77 322.4) skewX(-3.0)" font-size="21" font-style="italic" font-weight="bold">i</text>
<path d="M1532.5 283.6A18.77 24.44 0 0 0 1532.5 326.1L1532.5 325.65A13.43 23.92 0 0 1 1532.5 284.05Z"/>
<text transform="translate(1537.67 313.5) skewX(-4.0)" font-size="36" font-style="italic">BldFlexL</text>
<path d="M1675.5 283.6A18.77 24.44 0 0 1 1675.5 326.1L1675.5 325.65A13.43 23.92 0 0 0 1675.5 284.05Z"/>
<text transform="translate(1689.1 313.5) skewX(-4.0)" font-size="36" font-style="italic">q</text>
<circle cx="1697.1" cy="291.1" r="1.55"/>
<circle cx="1705.3" cy="291.1" r="1.55"/>
<text transform="translate(1705.93 322.6) skewX(-4.0)" font-size="21" font-style="italic">i</text>
<path d="M1720.4 258.9H1731V349.1H1720.4" stroke="#000" stroke-width="1.8" fill="none"/>
<rect x="968.4" y="389.93" width="18.3" height="1.75"/>
<rect x="976.67" y="382.1" width="1.75" height="17.4"/>
<text transform="translate(999.45 384) skewX(-3.0)" font-size="21" font-style="italic" font-weight="bold">E</text>
<polygon points="1017.20,385.50 1019.50,384.60 1022.00,384.30 1021.40,386.50 1018.70,386.30"/>
<path d="M1019.40 385.24L1019.42 385.80L1019.45 386.58L1019.47 387.48L1019.50 388.44L1019.53 389.38L1019.55 390.23L1019.56 391.01L1019.57 391.81L1019.58 392.61L1019.59 393.42L1019.61 394.24L1019.65 395.06L1019.73 395.96L1019.83 396.93L1019.94 397.93L1020.05 398.86L1020.14 399.65L1020.20 400.22L1021.80 400.38L1021.98 399.84L1022.23 399.09L1022.54 398.20L1022.85 397.23L1023.13 396.25L1023.35 395.34L1023.50 394.49L1023.63 393.64L1023.72 392.79L1023.79 391.93L1023.83 391.06L1023.85 390.17L1023.82 389.21L1023.75 388.20L1023.65 387.19L1023.55 386.27L1023.45 385.51L1023.40 384.96Z"/>
<path d="M1021.54 400.68L1021.84 400.43L1022.26 400.09L1022.76 399.68L1023.31 399.23L1023.86 398.77L1024.39 398.32L1024.89 397.87L1025.42 397.41L1025.96 396.93L1026.51 396.43L1027.04 395.90L1027.56 395.35L1028.06 394.77L1028.54 394.16L1029.00 393.54L1029.44 392.93L1029.85 392.34L1030.23 391.79L1030.59 391.28L1030.93 390.77L1031.27 390.27L1031.57 389.77L1031.84 389.26L1032.06 388.71L1032.19 388.08L1032.18 387.47L1032.10 386.97L1032.00 386.59L1031.94 386.37L1031.93 386.26L1029.07 387.14L1029.16 387.37L1029.29 387.61L1029.39 387.78L1029.47 387.91L1029.52 387.99L1029.54 388.09L1029.49 388.33L1029.37 388.68L1029.18 389.11L1028.95 389.58L1028.67 390.08L1028.37 390.61L1028.04 391.16L1027.68 391.74L1027.29 392.34L1026.88 392.93L1026.46 393.51L1026.04 394.05L1025.61 394.57L1025.15 395.08L1024.66 395.59L1024.17 396.10L1023.68 396.60L1023.21 397.08L1022.74 397.58L1022.25 398.09L1021.76 398.59L1021.31 399.05L1020.94 399.44L1020.66 399.72Z"/>
<circle cx="1030.1" cy="386.3" r="2.15"/>
<text transform="translate(1034.62 384) skewX(-3.0)" font-size="21" font-style="italic" font-weight="bold">S1</text>
<text transform="translate(1031.57 409.9) skewX(-3.0)" font-size="21" font-style="italic" font-weight="bold">Teet</text>
<path d="M1088 371.4A18.77 23.92 0 0 0 1088 413L1088 412.55A13.43 23.40 0 0 1 1088 371.85Z"/>
<text transform="translate(1092.67 399.7) skewX(-4.0)" font-size="36" font-style="italic">BldFlexL</text>
<path d="M1231.3 371.4A18.77 23.92 0 0 1 1231.3 413L1231.3 412.55A13.43 23.40 0 0 0 1231.3 371.85Z"/>
<text transform="translate(1245.4 399.7) skewX(-4.0)" font-size="36" font-style="italic">q</text>
<circle cx="1253.4" cy="377.3" r="1.55"/>
<circle cx="1261.6" cy="377.3" r="1.55"/>
<text transform="translate(1262.63 409.9) skewX(-4.0)" font-size="21" font-style="italic">Teet</text>
<rect x="967.7" y="475.82" width="19.5" height="1.75"/>
<rect x="976.58" y="467.4" width="1.75" height="18.6"/>
<path d="M1006.7 432.4H995.2V520.9H1006.7" stroke="#000" stroke-width="1.8" fill="none"/>
<polygon points="1010.55,454.00 1044.85,454.00 1045.15,462.30 1044.15,462.30 1043.25,458.70 1040.95,456.90 1019.45,456.90 1032.95,474.10 1016.55,494.10 1039.65,494.10 1043.25,492.90 1045.15,488.10 1047.05,487.70 1046.55,498.40 1010.95,498.40 1010.95,497.50 1029.65,474.80 1010.55,455.40"/>
<text transform="translate(1018.65 449.9) skewX(-4.0)" font-size="21" font-style="italic">14</text>
<text transform="translate(1012.63 519.8) skewX(-4.0)" font-size="21" font-style="italic">i=4</text>
<rect x="1053.6" y="476" width="34.5" height="1.4"/>
<text transform="translate(1059.61 462.3) skewX(-4.0)" font-size="36" font-style="italic">d</text>
<text transform="translate(1055.21 513.6) skewX(-4.0)" font-size="36" font-style="italic">dt</text>
<path d="M1103.8 451.9A18.77 28.98 0 0 0 1103.8 502.3L1103.8 501.85A12.84 28.46 0 0 1 1103.8 452.35Z"/>
<text transform="translate(1113.05 469.2) skewX(-3.0)" font-size="21" font-style="italic" font-weight="bold">E</text>
<polygon points="1131.10,471.30 1133.40,470.40 1135.90,470.10 1135.30,472.30 1132.60,472.10"/>
<path d="M1133.30 471.04L1133.32 471.60L1133.35 472.38L1133.37 473.28L1133.40 474.24L1133.43 475.18L1133.45 476.03L1133.46 476.81L1133.47 477.61L1133.48 478.41L1133.49 479.22L1133.51 480.04L1133.55 480.86L1133.63 481.76L1133.73 482.73L1133.84 483.73L1133.95 484.66L1134.04 485.45L1134.10 486.02L1135.70 486.18L1135.88 485.64L1136.13 484.89L1136.44 484.00L1136.75 483.03L1137.03 482.05L1137.25 481.14L1137.40 480.29L1137.53 479.44L1137.62 478.59L1137.69 477.73L1137.73 476.86L1137.75 475.97L1137.72 475.01L1137.65 474.00L1137.55 472.99L1137.45 472.07L1137.35 471.31L1137.30 470.76Z"/>
<path d="M1135.44 486.48L1135.74 486.23L1136.16 485.89L1136.66 485.48L1137.21 485.03L1137.76 484.57L1138.29 484.12L1138.79 483.67L1139.32 483.21L1139.86 482.73L1140.41 482.23L1140.94 481.70L1141.46 481.15L1141.96 480.57L1142.44 479.96L1142.90 479.34L1143.34 478.73L1143.75 478.14L1144.13 477.59L1144.49 477.08L1144.83 476.57L1145.17 476.07L1145.47 475.57L1145.74 475.06L1145.96 474.51L1146.09 473.88L1146.08 473.27L1146.00 472.77L1145.90 472.39L1145.84 472.17L1145.83 472.06L1142.97 472.94L1143.06 473.17L1143.19 473.41L1143.29 473.58L1143.37 473.71L1143.42 473.79L1143.44 473.89L1143.39 474.13L1143.27 474.48L1143.08 474.91L1142.85 475.38L1142.57 475.88L1142.27 476.41L1141.94 476.96L1141.58 477.54L1141.19 478.14L1140.78 478.73L1140.36 479.31L1139.94 479.85L1139.51 480.37L1139.05 480.88L1138.56 481.39L1138.07 481.90L1137.58 482.40L1137.11 482.88L1136.64 483.38L1136.15 483.89L1135.66 484.39L1135.21 484.85L1134.84 485.24L1134.56 485.52Z"/>
<circle cx="1144" cy="472.1" r="2.15"/>
<text transform="translate(1148.82 469.8) skewX(-3.0)" font-size="21" font-style="italic" font-weight="bold">S1</text>
<text transform="translate(1146.07 494.4) skewX(-3.0)" font-size="21" font-style="italic" font-weight="bold">i</text>
<path d="M1189.7 455.4A18.77 24.44 0 0 0 1189.7 497.9L1189.7 497.45A13.43 23.92 0 0 1 1189.7 455.85Z"/>
<text transform="translate(1194.07 485.5) skewX(-4.0)" font-size="36" font-style="italic">BldFlexL</text>
<path d="M1331.7 455.4A18.77 24.44 0 0 1 1331.7 497.9L1331.7 497.45A13.43 23.92 0 0 0 1331.7 455.85Z"/>
<path d="M1345 451.9A18.77 28.98 0 0 1 1345 502.3L1345 501.85A12.84 28.46 0 0 0 1345 452.35Z"/>
<text transform="translate(1360 485.5) skewX(-4.0)" font-size="36" font-style="italic">q</text>
<circle cx="1371.7" cy="463.1" r="1.55"/>
<text transform="translate(1377.23 494.6) skewX(-4.0)" font-size="21" font-style="italic">i</text>
<path d="M1390.8 432.4H1401.4V520.9H1390.8" stroke="#000" stroke-width="1.8" fill="none"/>
<rect x="1411.1" y="475.82" width="18.6" height="1.75"/>
<rect x="1419.53" y="467.85" width="1.75" height="17.7"/>
<path d="M1449.2 432.4H1438.6V520.9H1449.2" stroke="#000" stroke-width="1.8" fill="none"/>
<polygon points="1455.75,454.00 1490.05,454.00 1490.35,462.30 1489.35,462.30 1488.45,458.70 1486.15,456.90 1464.65,456.90 1478.15,474.10 1461.75,494.10 1484.85,494.10 1488.45,492.90 1490.35,488.10 1492.25,487.70 1491.75,498.40 1456.15,498.40 1456.15,497.50 1474.85,474.80 1455.75,455.40"/>
<text transform="translate(1463.55 449.9) skewX(-4.0)" font-size="21" font-style="italic">18</text>
<text transform="translate(1452.13 519.8) skewX(-4.0)" font-size="21" font-style="italic">i=16</text>
<rect x="1499.7" y="476" width="34.5" height="1.4"/>
<text transform="translate(1506.61 462.3) skewX(-4.0)" font-size="36" font-style="italic">d</text>
<text transform="translate(1502.11 513.6) skewX(-4.0)" font-size="36" font-style="italic">dt</text>
<path d="M1551.3 451.9A18.77 28.98 0 0 0 1551.3 502.3L1551.3 501.85A12.84 28.46 0 0 1 1551.3 452.35Z"/>
<text transform="translate(1559.65 469.2) skewX(-3.0)" font-size="21" font-style="italic" font-weight="bold">E</text>
<polygon points="1577.70,471.30 1580.00,470.40 1582.50,470.10 1581.90,472.30 1579.20,472.10"/>
<path d="M1579.90 471.04L1579.92 471.60L1579.95 472.38L1579.97 473.28L1580.00 474.24L1580.03 475.18L1580.05 476.03L1580.06 476.81L1580.07 477.61L1580.08 478.41L1580.09 479.22L1580.11 480.04L1580.15 480.86L1580.23 481.76L1580.33 482.73L1580.44 483.73L1580.55 484.66L1580.64 485.45L1580.70 486.02L1582.30 486.18L1582.48 485.64L1582.73 484.89L1583.04 484.00L1583.35 483.03L1583.63 482.05L1583.85 481.14L1584.00 480.29L1584.13 479.44L1584.22 478.59L1584.29 477.73L1584.33 476.86L1584.35 475.97L1584.32 475.01L1584.25 474.00L1584.15 472.99L1584.05 472.07L1583.95 471.31L1583.90 470.76Z"/>
<path d="M1582.04 486.48L1582.34 486.23L1582.76 485.89L1583.26 485.48L1583.81 485.03L1584.36 484.57L1584.89 484.12L1585.39 483.67L1585.92 483.21L1586.46 482.73L1587.01 482.23L1587.54 481.70L1588.06 481.15L1588.56 480.57L1589.04 479.96L1589.50 479.34L1589.94 478.73L1590.35 478.14L1590.73 477.59L1591.09 477.08L1591.43 476.57L1591.77 476.07L1592.07 475.57L1592.34 475.06L1592.56 474.51L1592.69 473.88L1592.68 473.27L1592.60 472.77L1592.50 472.39L1592.44 472.17L1592.43 472.06L1589.57 472.94L1589.66 473.17L1589.79 473.41L1589.89 473.58L1589.97 473.71L1590.02 473.79L1590.04 473.89L1589.99 474.13L1589.87 474.48L1589.68 474.91L1589.45 475.38L1589.17 475.88L1588.87 476.41L1588.54 476.96L1588.18 477.54L1587.79 478.14L1587.38 478.73L1586.96 479.31L1586.54 479.85L1586.11 480.37L1585.65 480.88L1585.16 481.39L1584.67 481.90L1584.18 482.40L1583.71 482.88L1583.24 483.38L1582.75 483.89L1582.26 484.39L1581.81 484.85L1581.44 485.24L1581.16 485.52Z"/>
<circle cx="1590.6" cy="472.1" r="2.15"/>
<text transform="translate(1594.52 469.8) skewX(-3.0)" font-size="21" font-style="italic" font-weight="bold">S1</text>
<text transform="translate(1591.77 494.4) skewX(-3.0)" font-size="21" font-style="italic" font-weight="bold">i</text>
<path d="M1636.3 455.4A18.77 24.44 0 0 0 1636.3 497.9L1636.3 497.45A13.43 23.92 0 0 1 1636.3 455.85Z"/>
<text transform="translate(1640.67 485.5) skewX(-4.0)" font-size="36" font-style="italic">BldFlexL</text>
<path d="M1777.7 455.4A18.77 24.44 0 0 1 1777.7 497.9L1777.7 497.45A13.43 23.92 0 0 0 1777.7 455.85Z"/>
<path d="M1791.8 451.9A18.77 28.98 0 0 1 1791.8 502.3L1791.8 501.85A12.84 28.46 0 0 0 1791.8 452.35Z"/>
<text transform="translate(1806.3 485.5) skewX(-4.0)" font-size="36" font-style="italic">q</text>
<circle cx="1818" cy="463.1" r="1.55"/>
<text transform="translate(1824.13 494.6) skewX(-4.0)" font-size="21" font-style="italic">i</text>
<path d="M1836.8 432.4H1848.3V521H1836.8" stroke="#000" stroke-width="1.8" fill="none"/>
<rect x="968" y="580.33" width="18.9" height="1.75"/>
<rect x="976.58" y="572.2" width="1.75" height="18"/>
<rect x="994.3" y="580.5" width="34.7" height="1.4"/>
<text transform="translate(1001.31 567.5) skewX(-4.0)" font-size="36" font-style="italic">d</text>
<text transform="translate(997.01 617.6) skewX(-4.0)" font-size="36" font-style="italic">dt</text>
<path d="M1045.4 556.6A18.77 29.67 0 0 0 1045.4 608.2L1045.4 607.75A12.84 29.15 0 0 1 1045.4 557.05Z"/>
<text transform="translate(1053.25 575) skewX(-3.0)" font-size="21" font-style="italic" font-weight="bold">E</text>
<polygon points="1071.60,575.80 1073.90,574.90 1076.40,574.60 1075.80,576.80 1073.10,576.60"/>
<path d="M1073.80 575.54L1073.82 576.10L1073.85 576.88L1073.87 577.78L1073.90 578.74L1073.93 579.68L1073.95 580.53L1073.96 581.31L1073.97 582.11L1073.98 582.91L1073.99 583.72L1074.01 584.54L1074.05 585.36L1074.13 586.26L1074.23 587.23L1074.34 588.23L1074.45 589.16L1074.54 589.95L1074.60 590.52L1076.20 590.68L1076.38 590.14L1076.63 589.39L1076.94 588.50L1077.25 587.53L1077.53 586.55L1077.75 585.64L1077.90 584.79L1078.03 583.94L1078.12 583.09L1078.19 582.23L1078.23 581.36L1078.25 580.47L1078.22 579.51L1078.15 578.50L1078.05 577.49L1077.95 576.57L1077.85 575.81L1077.80 575.26Z"/>
<path d="M1075.94 590.98L1076.24 590.73L1076.66 590.39L1077.16 589.98L1077.71 589.53L1078.26 589.07L1078.79 588.62L1079.29 588.17L1079.82 587.71L1080.36 587.23L1080.91 586.73L1081.44 586.20L1081.96 585.65L1082.46 585.07L1082.94 584.46L1083.40 583.84L1083.84 583.23L1084.25 582.64L1084.63 582.09L1084.99 581.58L1085.33 581.07L1085.67 580.57L1085.97 580.07L1086.24 579.56L1086.46 579.01L1086.59 578.38L1086.58 577.77L1086.50 577.27L1086.40 576.89L1086.34 576.67L1086.33 576.56L1083.47 577.44L1083.56 577.67L1083.69 577.91L1083.79 578.08L1083.87 578.21L1083.92 578.29L1083.94 578.39L1083.89 578.63L1083.77 578.98L1083.58 579.41L1083.35 579.88L1083.07 580.38L1082.77 580.91L1082.44 581.46L1082.08 582.04L1081.69 582.64L1081.28 583.23L1080.86 583.81L1080.44 584.35L1080.01 584.87L1079.55 585.38L1079.06 585.89L1078.57 586.40L1078.08 586.90L1077.61 587.38L1077.14 587.88L1076.65 588.39L1076.16 588.89L1075.71 589.35L1075.34 589.74L1075.06 590.02Z"/>
<circle cx="1084.5" cy="576.6" r="2.15"/>
<text transform="translate(1089.62 575) skewX(-3.0)" font-size="21" font-style="italic" font-weight="bold">S1</text>
<text transform="translate(1086.77 599.4) skewX(-3.0)" font-size="21" font-style="italic" font-weight="bold">Teet</text>
<path d="M1144.1 560.9A18.77 24.21 0 0 0 1144.1 603L1144.1 602.55A13.43 23.69 0 0 1 1144.1 561.35Z"/>
<text transform="translate(1147.37 590) skewX(-4.0)" font-size="36" font-style="italic">BldFlexL</text>
<path d="M1285.9 560.9A18.77 24.21 0 0 1 1285.9 603L1285.9 602.55A13.43 23.69 0 0 0 1285.9 561.35Z"/>
<path d="M1298 556.6A18.77 29.15 0 0 1 1298 607.3L1298 606.85A12.84 28.63 0 0 0 1298 557.05Z"/>
<text transform="translate(1314 590) skewX(-4.0)" font-size="36" font-style="italic">q</text>
<circle cx="1325.7" cy="567.6" r="1.55"/>
<text transform="translate(1331.83 599.4) skewX(-4.0)" font-size="21" font-style="italic">Teet</text>
</svg></body></html>
